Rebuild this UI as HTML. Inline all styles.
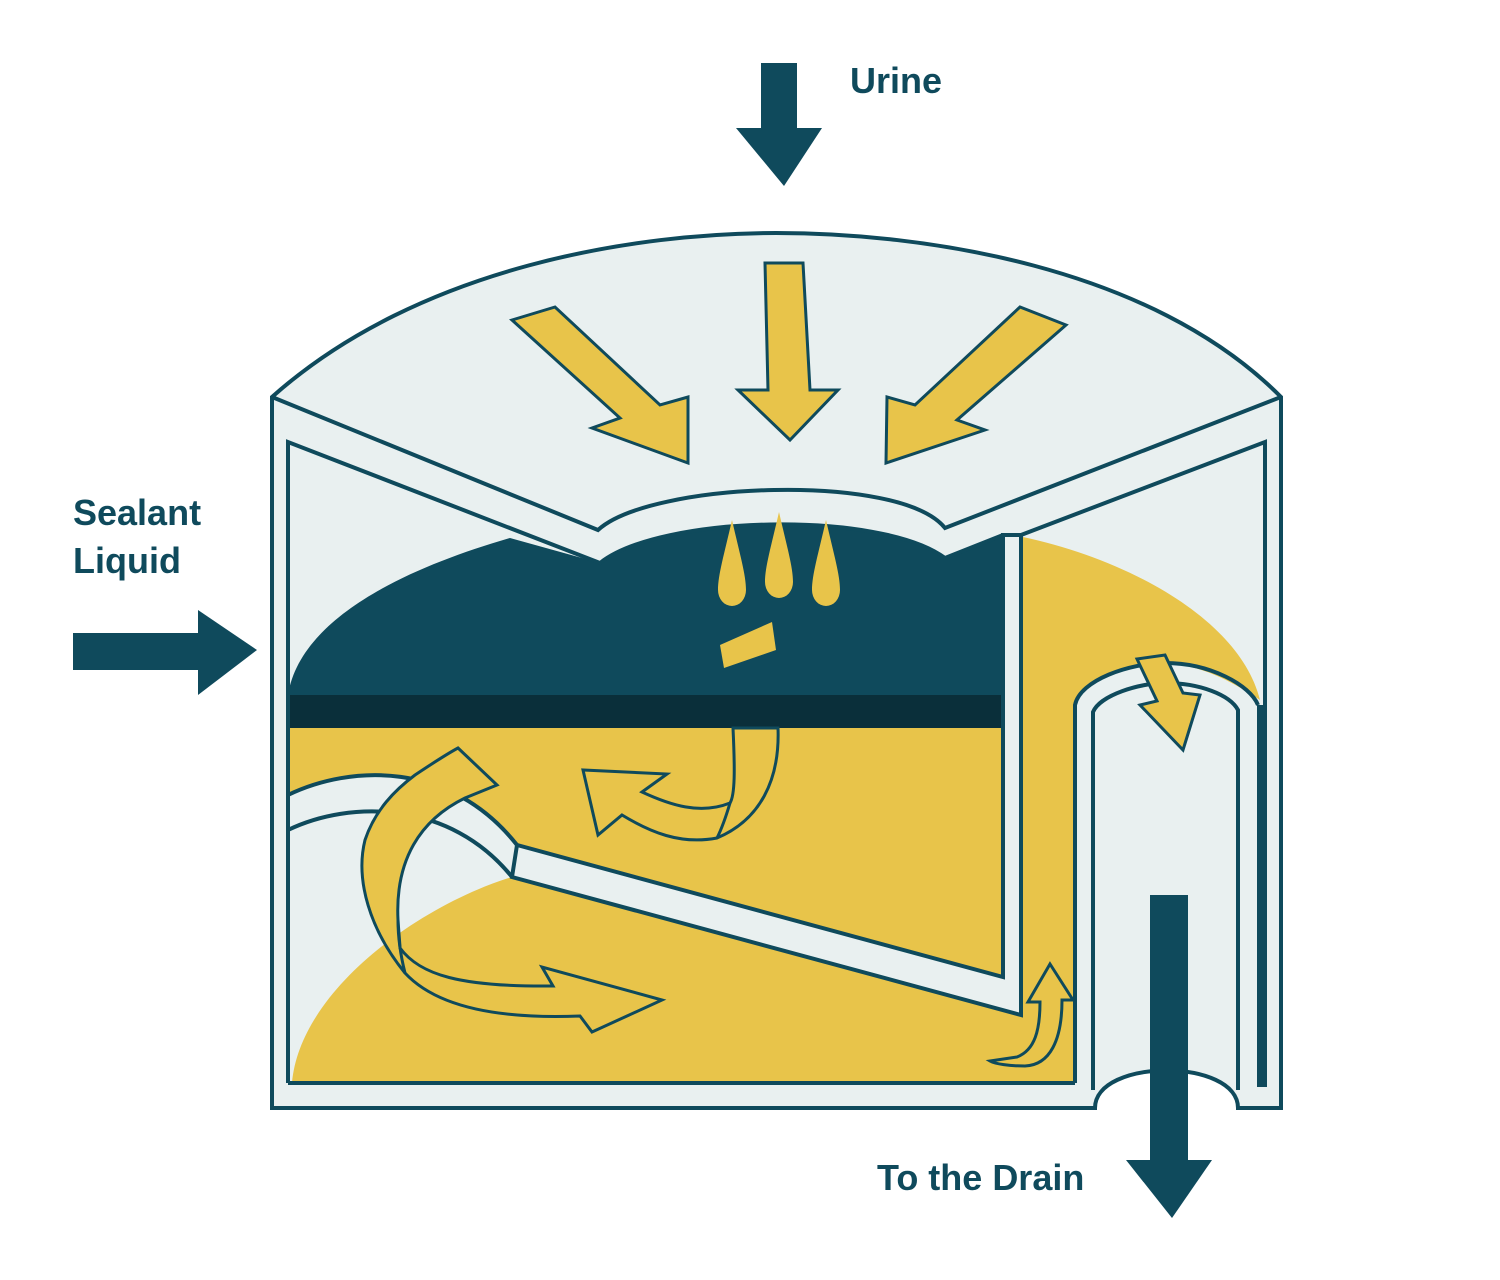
<!DOCTYPE html>
<html><head><style>html,body{margin:0;padding:0;background:#fff}svg{display:block}</style></head>
<body>
<svg width="1500" height="1280" viewBox="0 0 1500 1280" xmlns="http://www.w3.org/2000/svg">
<g stroke="#0f4a5c" stroke-width="4" stroke-linejoin="miter">
<path d="M272,397 C420,265 640,233 776,233 C920,233 1150,265 1281,397 L1281,1108 L1238,1108 C1238,1058 1095,1058 1095,1108 L272,1108 Z" fill="#e9f0f0"/>
<path d="M272,397 L598,530 C650,482 900,472 945,528 L1281,397" fill="none"/>
<rect x="288" y="700" width="787" height="383" fill="#e8c44a" stroke="none"/>
<path d="M288,695 C300,620 400,570 510,538 L600,563 C660,515 880,510 945,558 L1003,535 L1003,695 Z" fill="#0f4a5c" stroke="none"/>
<rect x="288" y="695" width="715" height="33" fill="#0a2f3a" stroke="none"/>
<path d="M288,830 C350,800 450,790 512,877 C420,905 300,990 292,1083 L288,1083 Z" fill="#e9f0f0" stroke="none"/>
<path d="M288,795 C350,765 450,760 517,845 L512,877 C450,800 350,800 288,830 Z" fill="#e9f0f0" stroke="none"/>
<path d="M288,795 C350,765 450,760 517,845 M512,877 C450,800 350,800 288,830" fill="none"/>
<path d="M1003,535 L1021,535 L1021,1015 L512,877 L517,845 L1003,977 Z" fill="#e9f0f0"/>
<path d="M1023,537 C1130,560 1240,620 1260,700 C1230,680 1200,665 1165,663 C1110,665 1077,690 1075,705 L1075,1083 L1023,1083 Z" fill="#e8c44a" stroke="none"/>
<path d="M288,1083 L288,442 L600,563 C660,515 880,510 945,558 L1003,535 M1021,535 L1265,442 L1265,1087" fill="none"/>
<path d="M288,1083 L1075,1083" fill="none"/>
<path d="M1075,1083 L1075,705 C1080,680 1130,663 1165,663 C1210,663 1250,685 1258,705" fill="none"/>
<path d="M1093,1090 L1093,712 C1100,695 1140,683 1165,683 C1200,683 1230,695 1238,710 L1238,1090" fill="none"/>
<rect x="1257" y="705" width="9" height="382" fill="#0f4a5c" stroke="none"/>
</g>
<g fill="#0f4a5c">
<rect x="761" y="63" width="36" height="66"/><polygon points="736,128 822,128 784,186"/>
<rect x="73" y="633" width="126" height="37"/><polygon points="198,610 198,695 257,650"/>
<rect x="1150" y="895" width="38" height="266"/><polygon points="1126,1160 1212,1160 1172,1218"/>
</g>
<g fill="#e8c44a" stroke="#0f4a5c" stroke-width="3" stroke-linejoin="miter">
<polygon points="765,263 803,263 810,390 838,390 790,440 738,390 768,390"/>
<polygon points="512,320 555,307 660,405 688,397 688,463 592,428 620,418"/>
<polygon points="1066,325 1020,307 915,405 887,397 886,463 985,430 957,420"/>
<path d="M733,728 C735,770 735,795 730,803 C700,815 670,805 642,792 L667,774 L583,770 L598,835 L622,815 C650,832 680,845 717,838 C760,820 780,780 778,728 Z"/>
<path d="M730,803 C725,820 720,832 717,838" fill="none"/>
<path d="M405,973 C370,930 355,880 365,840 C375,810 395,790 415,775 C430,765 445,755 458,748 L497,785 L465,798 C420,820 395,860 398,920 C399,935 400,945 400,948 C420,975 460,987 553,986 L542,967 L662,1000 L592,1032 L580,1016 C480,1020 430,1000 405,973 Z"/>
<path d="M398,920 C398,945 403,965 405,973" fill="none"/>
<path d="M1137,659 L1165,655 L1183,693 L1200,695 L1183,750 L1140,705 L1157,701 Z"/>
<path d="M1050,964 L1073,1000 L1062,1000 C1062,1040 1050,1065 1025,1066 C1010,1066 995,1064 990,1061 L1017,1057 C1035,1050 1040,1030 1040,1002 L1028,1002 Z"/>
</g>
<g fill="#e8c44a">
<path d="M732,520 C740,555 746,575 746,590 A14,16 0 0 1 718,590 C718,575 724,555 732,520 Z"/>
<path d="M779,512 C787,547 793,567 793,582 A14,16 0 0 1 765,582 C765,567 771,547 779,512 Z"/>
<path d="M826,520 C834,555 840,575 840,590 A14,16 0 0 1 812,590 C812,575 818,555 826,520 Z"/>
<polygon points="720,645 772,622 776,650 724,668"/>
</g>
<g fill="#0f4a5c" font-family="Liberation Sans, sans-serif" font-weight="bold" font-size="36">
<text x="850" y="93">Urine</text>
<text x="73" y="525">Sealant</text>
<text x="73" y="573">Liquid</text>
<text x="877" y="1190">To the Drain</text>
</g>
</svg>
</body></html>
